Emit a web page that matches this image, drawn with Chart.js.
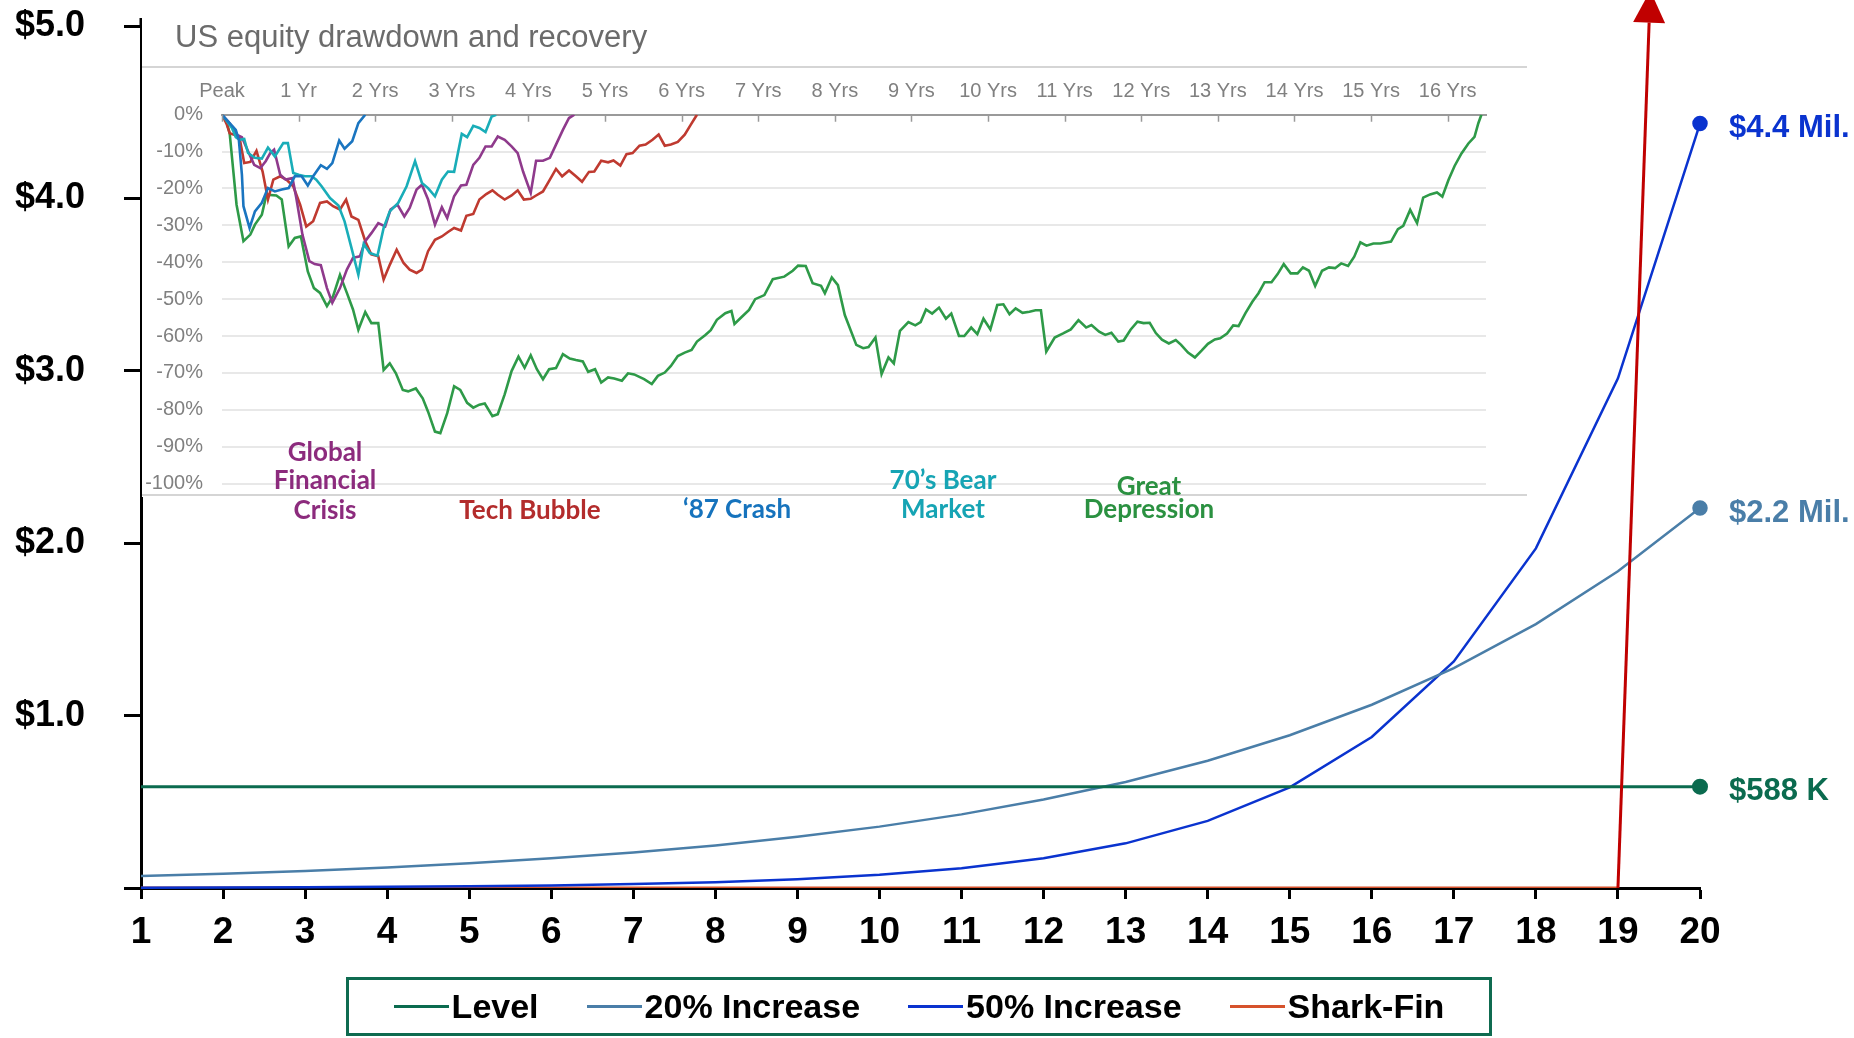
<!DOCTYPE html>
<html>
<head>
<meta charset="utf-8">
<title>Level vs increasing vs shark-fin payout</title>
<script src="https://cdn.jsdelivr.net/npm/chart.js@4.4.1/dist/chart.umd.min.js"></script>
<style>
  html, body { margin: 0; padding: 0; background: #fff; }
  #wrap { position: relative; width: 1854px; height: 1038px; overflow: hidden; }
  #main { position: absolute; left: 0; top: 0; }
  #inset { position: absolute; left: 142px; top: 14px; }
  #legend {
    position: absolute; left: 346px; top: 977px; width: 1140px; height: 53px;
    border: 3px solid #0f6b50; display: flex; align-items: center; justify-content: center;
    font: bold 34px "Liberation Sans", Arial, sans-serif; color: #000;
  }
  #legend .item { display: flex; align-items: center; margin: 0 24px; white-space: nowrap; }
  #legend .swatch { width: 55px; height: 3px; margin-right: 3px; }
</style>
</head>
<body>
<div id="wrap">
  <canvas id="main" width="1854" height="1038"></canvas>
  <canvas id="inset" width="1388" height="520"></canvas>
  <div id="legend"></div>
</div>
<script>
const FONT = '"Liberation Sans", Arial, sans-serif';

// ---- main chart: payout by year, $ millions ----
const years = [1, 2, 3, 4, 5, 6, 7, 8, 9, 10, 11, 12, 13, 14, 15, 16, 17, 18, 19, 20];
const level = [0.588, 0.588, 0.588, 0.588, 0.588, 0.588, 0.588, 0.588, 0.588, 0.588,
               0.588, 0.588, 0.588, 0.588, 0.588, 0.588, 0.588, 0.588, 0.588, 0.588];
const increase20 = [0.069, 0.083, 0.099, 0.119, 0.143, 0.172, 0.206, 0.247, 0.297, 0.356,
                    0.427, 0.513, 0.615, 0.738, 0.886, 1.063, 1.276, 1.531, 1.837, 2.204];
const increase50 = [0.002, 0.003, 0.004, 0.007, 0.010, 0.015, 0.023, 0.034, 0.051, 0.077,
                    0.115, 0.173, 0.259, 0.389, 0.584, 0.876, 1.314, 1.970, 2.956, 4.434];
const sharkFin = [0, 0, 0, 0, 0, 0, 0, 0, 0, 0, 0, 0, 0, 0, 0, 0, 0, 0, 0, null];
const sharkFinSpike = [[19, 0], [19.38, 5.02]];
const yLabels = ['', '$1.0', '$2.0', '$3.0', '$4.0', '$5.0'];

// ---- inset: drawdown (%) by years from peak ----
const yearLabels = ['Peak', '1 Yr', '2 Yrs', '3 Yrs', '4 Yrs', '5 Yrs', '6 Yrs', '7 Yrs', '8 Yrs',
                    '9 Yrs', '10 Yrs', '11 Yrs', '12 Yrs', '13 Yrs', '14 Yrs', '15 Yrs', '16 Yrs'];
const pctLabels = ['-100%', '-90%', '-80%', '-70%', '-60%', '-50%', '-40%', '-30%', '-20%', '-10%', '0%'];

const greatDepression = [[0,0],[0.06,-2.0],[0.10,-5.0],[0.15,-15.8],[0.19,-24.4],[0.28,-34.3],[0.37,-32.5],
  [0.43,-29.8],[0.52,-27.1],[0.58,-21.7],[0.71,-21.9],[0.78,-23.0],[0.87,-35.7],[0.95,-33.4],[1.03,-33.0],
  [1.12,-42.5],[1.20,-47.0],[1.28,-48.3],[1.37,-51.9],[1.45,-49.2],[1.54,-43.4],[1.63,-48.3],[1.71,-52.8],
  [1.78,-58.3],[1.87,-53.5],[1.95,-56.5],[2.04,-56.5],[2.11,-69.2],[2.19,-67.4],[2.27,-70.1],[2.36,-74.6],
  [2.43,-75.0],[2.53,-74.2],[2.62,-76.9],[2.69,-80.5],[2.78,-85.9],[2.85,-86.3],[2.94,-80.9],[3.03,-73.6],
  [3.11,-74.6],[3.20,-78.1],[3.28,-79.4],[3.36,-78.6],[3.43,-78.3],[3.53,-81.7],[3.60,-81.2],[3.69,-75.8],
  [3.78,-69.5],[3.87,-65.6],[3.95,-68.6],[4.03,-65.2],[4.11,-69.0],[4.19,-71.7],[4.27,-69.0],[4.36,-68.7],
  [4.45,-64.9],[4.54,-66.1],[4.62,-66.5],[4.71,-66.9],[4.78,-69.7],[4.87,-69.0],[4.95,-72.6],[5.04,-71.2],
  [5.12,-71.5],[5.22,-72.1],[5.30,-70.1],[5.38,-70.4],[5.51,-71.7],[5.61,-73.0],[5.69,-70.8],[5.78,-69.9],
  [5.86,-68.1],[5.95,-65.4],[6.04,-64.5],[6.13,-63.8],[6.20,-61.5],[6.31,-59.7],[6.38,-58.4],[6.46,-55.6],
  [6.57,-53.8],[6.65,-53.2],[6.69,-56.7],[6.79,-54.7],[6.88,-52.9],[6.96,-50.0],[7.08,-48.9],[7.19,-44.6],
  [7.34,-43.9],[7.45,-42.3],[7.52,-40.9],[7.62,-41.0],[7.71,-45.7],[7.82,-46.4],[7.87,-48.4],[7.96,-44.1],
  [8.04,-46.2],[8.13,-54.3],[8.28,-62.4],[8.37,-63.3],[8.44,-63.0],[8.53,-60.4],[8.61,-70.3],[8.70,-65.8],
  [8.77,-67.4],[8.85,-58.6],[8.96,-56.2],[9.05,-57.1],[9.12,-56.2],[9.19,-52.8],[9.27,-53.9],[9.36,-52.3],
  [9.45,-55.3],[9.52,-53.9],[9.62,-60.0],[9.69,-60.0],[9.78,-57.7],[9.86,-59.5],[9.94,-55.3],[10.03,-58.2],
  [10.12,-51.6],[10.20,-51.4],[10.28,-54.1],[10.36,-52.5],[10.45,-53.7],[10.54,-53.4],[10.62,-53.0],
  [10.69,-53.0],[10.76,-64.2],[10.87,-60.4],[10.98,-59.3],[11.08,-58.2],[11.18,-55.7],[11.28,-57.7],
  [11.35,-57.0],[11.45,-58.8],[11.53,-59.7],[11.61,-59.1],[11.70,-61.5],[11.77,-61.2],[11.86,-58.3],
  [11.95,-56.1],[12.03,-56.5],[12.11,-56.4],[12.19,-59.2],[12.27,-61.0],[12.36,-62.0],[12.45,-61.1],
  [12.52,-62.4],[12.61,-64.5],[12.70,-65.8],[12.79,-63.9],[12.87,-62.1],[12.96,-60.9],[13.03,-60.6],
  [13.12,-59.3],[13.20,-57.1],[13.27,-57.3],[13.36,-53.8],[13.45,-50.7],[13.53,-48.4],[13.61,-45.4],
  [13.70,-45.4],[13.78,-43.2],[13.86,-40.5],[13.95,-43.0],[14.04,-43.0],[14.11,-41.4],[14.19,-42.3],
  [14.27,-46.4],[14.36,-42.3],[14.45,-41.4],[14.53,-41.6],[14.61,-40.3],[14.70,-41.0],[14.78,-38.5],
  [14.86,-34.6],[14.94,-35.5],[15.03,-34.9],[15.12,-34.9],[15.26,-34.4],[15.35,-31.0],[15.42,-30.1],
  [15.51,-25.8],[15.60,-29.4],[15.68,-22.5],[15.77,-21.6],[15.86,-21.1],[15.93,-22.2],[16.01,-17.7],
  [16.09,-13.9],[16.18,-10.5],[16.27,-7.8],[16.35,-6.0],[16.40,-2.3],[16.44,0]];

const globalFinancialCrisis = [[0,0],[0.10,-2.3],[0.19,-5.4],[0.26,-6.1],[0.34,-9.9],[0.42,-13.6],[0.50,-14.5],
  [0.57,-12.6],[0.63,-10.4],[0.68,-9.5],[0.76,-16.3],[0.83,-17.6],[0.92,-17.2],[0.97,-22.6],[1.05,-32.5],
  [1.14,-39.7],[1.21,-40.5],[1.29,-40.8],[1.37,-47.0],[1.44,-51.0],[1.54,-47.0],[1.63,-42.0],[1.71,-38.8],
  [1.80,-38.4],[1.87,-34.3],[1.95,-32.1],[2.04,-29.4],[2.13,-30.3],[2.20,-25.7],[2.29,-24.4],[2.38,-27.6],
  [2.45,-25.3],[2.54,-20.3],[2.61,-19.0],[2.69,-23.0],[2.78,-29.8],[2.87,-25.1],[2.94,-28.0],[3.03,-22.1],
  [3.12,-19.2],[3.19,-19.0],[3.28,-13.6],[3.36,-11.7],[3.44,-8.6],[3.52,-8.6],[3.60,-5.9],[3.69,-6.8],
  [3.78,-8.6],[3.86,-10.4],[3.93,-15.4],[4.03,-21.2],[4.10,-12.5],[4.19,-12.5],[4.28,-11.7],[4.36,-8.1],
  [4.45,-4.1],[4.53,-0.9],[4.60,0]];

const techBubble = [[0,0],[0.06,-2.5],[0.10,-5.0],[0.18,-5.6],[0.23,-6.3],[0.29,-13.1],[0.37,-12.8],
  [0.45,-9.8],[0.53,-15.4],[0.60,-23.0],[0.67,-17.6],[0.76,-16.7],[0.84,-17.6],[0.93,-19.4],[1.02,-24.4],
  [1.10,-30.3],[1.19,-28.9],[1.28,-23.9],[1.37,-23.5],[1.45,-24.8],[1.54,-25.7],[1.62,-23.0],[1.69,-27.6],
  [1.78,-28.5],[1.87,-34.3],[1.95,-37.9],[2.04,-38.4],[2.11,-44.7],[2.19,-40.7],[2.28,-36.6],[2.37,-40.2],
  [2.45,-42.0],[2.54,-42.9],[2.61,-42.0],[2.69,-37.0],[2.78,-33.9],[2.87,-33.0],[2.95,-31.8],[3.03,-30.7],
  [3.12,-31.4],[3.19,-27.4],[3.28,-26.9],[3.36,-23.0],[3.45,-21.5],[3.53,-20.5],[3.60,-21.7],[3.69,-23.0],
  [3.78,-21.9],[3.86,-20.5],[3.94,-23.0],[4.03,-22.8],[4.10,-21.9],[4.19,-20.8],[4.28,-17.6],[4.36,-14.7],
  [4.44,-16.7],[4.53,-15.1],[4.62,-16.7],[4.70,-18.2],[4.79,-15.5],[4.86,-15.4],[4.95,-12.5],[5.04,-12.9],
  [5.11,-12.4],[5.20,-13.8],[5.28,-10.7],[5.36,-10.4],[5.45,-8.4],[5.53,-8.1],[5.62,-6.8],[5.70,-5.4],
  [5.78,-8.4],[5.86,-8.1],[5.95,-7.4],[6.04,-5.4],[6.12,-2.7],[6.20,0]];

const crash87 = [[0,0],[0.10,-2.3],[0.18,-4.1],[0.22,-6.8],[0.26,-16.3],[0.28,-24.8],[0.36,-30.7],
  [0.43,-26.2],[0.52,-23.9],[0.60,-19.9],[0.69,-20.8],[0.78,-20.3],[0.87,-19.9],[0.95,-16.7],[1.04,-16.7],
  [1.12,-19.2],[1.19,-16.7],[1.29,-13.7],[1.37,-14.7],[1.44,-13.1],[1.53,-7.0],[1.60,-9.2],[1.70,-7.2],
  [1.78,-2.3],[1.87,0]];

const bearMarket70s = [[0,0],[0.13,-3.6],[0.18,-6.1],[0.23,-6.8],[0.29,-6.6],[0.34,-10.4],[0.43,-11.7],
  [0.52,-11.9],[0.60,-8.9],[0.69,-11.3],[0.80,-7.7],[0.86,-7.7],[0.93,-15.8],[1.00,-16.3],[1.08,-16.7],
  [1.17,-16.7],[1.23,-17.6],[1.30,-19.4],[1.41,-22.6],[1.52,-24.6],[1.60,-28.9],[1.69,-36.1],[1.78,-43.4],
  [1.85,-35.0],[1.93,-37.5],[2.03,-38.2],[2.11,-30.7],[2.19,-26.2],[2.30,-23.9],[2.41,-19.4],[2.52,-12.6],
  [2.61,-18.5],[2.69,-19.9],[2.78,-22.1],[2.87,-17.6],[2.95,-15.4],[3.03,-15.5],[3.13,-5.2],[3.20,-6.1],
  [3.28,-3.0],[3.36,-3.6],[3.44,-4.7],[3.52,-0.5],[3.58,0]];

// ---- plugins ----
const endLabels = {
  id: 'endLabels',
  afterDatasetsDraw(chart) {
    const ctx = chart.ctx;
    chart.data.datasets.forEach((ds, i) => {
      if (!ds.endLabel) return;
      const pts = chart.getDatasetMeta(i).data;
      const p = pts[pts.length - 1];
      ctx.save();
      ctx.font = 'bold 31px ' + FONT;
      ctx.fillStyle = ds.borderColor;
      ctx.textBaseline = 'middle';
      ctx.fillText(ds.endLabel, p.x + 29, p.y + 5);
      ctx.restore();
    });
  }
};

const arrowHead = {
  id: 'arrowHead',
  afterDatasetsDraw(chart) {
    const ctx = chart.ctx;
    chart.data.datasets.forEach((ds, i) => {
      if (!ds.arrow) return;
      const pts = chart.getDatasetMeta(i).data;
      const a = pts[pts.length - 2], b = pts[pts.length - 1];
      ctx.save();
      ctx.translate(b.x, b.y);
      ctx.rotate(Math.atan2(b.y - a.y, b.x - a.x));
      ctx.beginPath();
      ctx.moveTo(32, 0);
      ctx.lineTo(0, -16);
      ctx.lineTo(0, 16);
      ctx.closePath();
      ctx.fillStyle = ds.borderColor;
      ctx.fill();
      ctx.restore();
    });
  }
};

// y axis line runs a little past the top tick
const axisCap = {
  id: 'axisCap',
  afterDraw(chart) {
    const { ctx, chartArea } = chart;
    ctx.save();
    ctx.strokeStyle = '#000';
    ctx.lineWidth = 3;
    ctx.beginPath();
    ctx.moveTo(chartArea.left, chartArea.top);
    ctx.lineTo(chartArea.left, chartArea.top - 8);
    ctx.stroke();
    ctx.restore();
  }
};

// keep label overflow from pushing the plot area around
const noPad = (s) => { s.paddingTop = 0; s.paddingBottom = 0; s.paddingLeft = 0; s.paddingRight = 0; };

const lastDot = (ctx) => ctx.dataIndex === ctx.dataset.data.length - 1 ? 6.5 : 0;
const toXY = (ys) => years.map((x, i) => ({ x, y: ys[i] }));

const mainChart = new Chart(document.getElementById('main'), {
  type: 'line',
  data: {
    datasets: [
      { label: 'Level', data: toXY(level), borderColor: '#0b6b4f', backgroundColor: '#0b6b4f',
        borderWidth: 3, pointRadius: lastDot, clip: 10, endLabel: '$588 K' },
      { label: '20% Increase', data: toXY(increase20), borderColor: '#4a7ea8', backgroundColor: '#4a7ea8',
        borderWidth: 2.5, pointRadius: lastDot, clip: 10, endLabel: '$2.2 Mil.' },
      { label: '50% Increase', data: toXY(increase50), borderColor: '#0a33cf', backgroundColor: '#0a33cf',
        borderWidth: 2.5, pointRadius: lastDot, clip: 10, endLabel: '$4.4 Mil.' },
      { label: 'Shark-Fin', data: toXY(sharkFin), borderColor: '#d6522c', backgroundColor: '#d6522c',
        borderWidth: 3, pointRadius: 0 },
      { label: 'spike', data: sharkFinSpike.map(([x, y]) => ({ x, y })), borderColor: '#c00000',
        borderWidth: 3, pointRadius: 0, clip: false, arrow: true, order: -1 }
    ]
  },
  options: {
    responsive: false,
    devicePixelRatio: 1,
    animation: false,
    events: [],
    layout: { padding: { left: 0, top: 26, right: 154, bottom: 90 } },
    plugins: { legend: { display: false }, tooltip: { enabled: false } },
    scales: {
      x: {
        type: 'linear', min: 1, max: 20,
        ticks: { stepSize: 1, autoSkip: false, maxRotation: 0, color: '#000', padding: 12,
                 font: { family: FONT, size: 37, weight: 'bold' } },
        grid: { drawOnChartArea: false, tickLength: 11, tickColor: '#000', tickWidth: 3 },
        border: { color: '#000', width: 3 },
        afterFit(s) { s.height = 60; noPad(s); }
      },
      y: {
        min: 0, max: 5,
        ticks: { stepSize: 1, color: '#000', padding: 39,
                 font: { family: FONT, size: 36, weight: 'bold' },
                 callback: (v) => yLabels[Math.round(v)] },
        grid: { drawOnChartArea: false, tickLength: 17, tickColor: '#000', tickWidth: 3 },
        border: { color: '#000', width: 3 },
        afterFit(s) { s.width = 141; noPad(s); }
      }
    }
  },
  plugins: [endLabels, arrowHead, axisCap]
});

// html legend from the main datasets
const legendBox = document.getElementById('legend');
mainChart.data.datasets.filter(d => !d.arrow).forEach(d => {
  const item = document.createElement('div');
  item.className = 'item';
  item.innerHTML = '<span class="swatch" style="background:' + d.borderColor + '"></span>' + d.label;
  legendBox.appendChild(item);
});

// ---- inset decorations: title, frame lines, inward ticks, event names ----
const eventNotes = [
  { lines: ['Global', 'Financial', 'Crisis'], color: '#8c2b7d', x: 183, y: [439, 467, 497] },
  { lines: ['Tech Bubble'], color: '#b32c2c', x: 388, y: [497] },
  { lines: ['\u201887 Crash'], color: '#1673bd', x: 595, y: [496] },
  { lines: ['70\u2019s Bear', 'Market'], color: '#16a4b4', x: 801, y: [467, 496] },
  { lines: ['Great', 'Depression'], color: '#2b9141', x: 1007, y: [473, 496] }
];

const insetDecor = {
  id: 'insetDecor',
  beforeDraw(chart) {
    const ctx = chart.ctx;
    ctx.save();
    ctx.fillStyle = '#fff';
    ctx.fillRect(0, 0, chart.width, 483);
    ctx.restore();
  },
  afterDraw(chart) {
    const ctx = chart.ctx;
    const xs = chart.scales.x;
    ctx.save();
    ctx.font = '31px ' + FONT;
    ctx.fillStyle = '#6b6b6b';
    ctx.textBaseline = 'middle';
    ctx.fillText('US equity drawdown and recovery', 33, 24);

    ctx.strokeStyle = '#c8c8c8';
    ctx.lineWidth = 1.5;
    ctx.beginPath();
    ctx.moveTo(0, 53); ctx.lineTo(1385, 53);
    ctx.moveTo(0, 481); ctx.lineTo(1385, 481);
    ctx.stroke();

    ctx.strokeStyle = '#9a9a9a';
    ctx.beginPath();
    xs.ticks.forEach(t => {
      const px = Math.round(xs.getPixelForValue(t.value)) + 0.5;
      ctx.moveTo(px, xs.bottom);
      ctx.lineTo(px, xs.bottom + 7);
    });
    ctx.stroke();

    ctx.textAlign = 'center';
    ctx.font = 'bold 26px Lato, ' + FONT;
    eventNotes.forEach(n => {
      ctx.fillStyle = n.color;
      n.lines.forEach((s, k) => ctx.fillText(s, n.x, n.y[k]));
    });
    ctx.restore();
  }
};

const toPts = (arr) => arr.map(([x, y]) => ({ x, y }));
const insetLine = (label, arr, color) => ({
  label, data: toPts(arr), borderColor: color, borderWidth: 2.6, pointRadius: 0
});

new Chart(document.getElementById('inset'), {
  type: 'line',
  data: {
    datasets: [
      insetLine("'87 Crash", crash87, '#1a75c0'),
      insetLine("70's Bear Market", bearMarket70s, '#19adb8'),
      insetLine('Global Financial Crisis', globalFinancialCrisis, '#8f3a8c'),
      insetLine('Tech Bubble', techBubble, '#bf3a30'),
      insetLine('Great Depression', greatDepression, '#2e9a48')
    ]
  },
  options: {
    responsive: false,
    devicePixelRatio: 1,
    animation: false,
    events: [],
    layout: { padding: { left: 0, top: 60, right: 44, bottom: 50.4 } },
    plugins: { legend: { display: false }, tooltip: { enabled: false } },
    scales: {
      x: {
        type: 'linear', position: 'top', min: 0, max: 16.5,
        ticks: { stepSize: 1, includeBounds: false, autoSkip: false, maxRotation: 0,
                 color: '#808080', padding: 11, font: { family: FONT, size: 20 },
                 callback: (v) => yearLabels[Math.round(v)] },
        grid: { display: false, drawTicks: false },
        border: { display: true, color: '#9a9a9a', width: 2 },
        afterFit(s) { s.height = 40.7; noPad(s); }
      },
      y: {
        min: -100, max: 0,
        ticks: { stepSize: 10, color: '#808080', padding: 19, font: { family: FONT, size: 20 },
                 callback: (v) => pctLabels[Math.round((v + 100) / 10)] },
        grid: { color: '#e8e8e8', lineWidth: 2, drawTicks: false },
        border: { display: false },
        afterFit(s) { s.width = 80; noPad(s); }
      }
    }
  },
  plugins: [insetDecor]
});
</script>
</body>
</html>
